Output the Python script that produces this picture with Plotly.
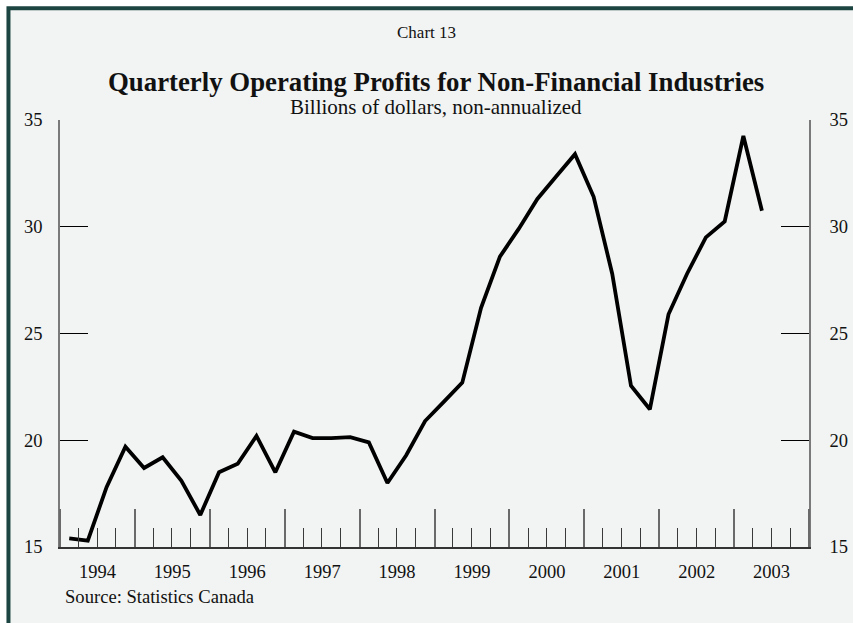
import pandas as pd
import plotly.graph_objects as go

# Quarterly operating profits, non-financial industries ($ billions, non-annualized)
quarters = [f"{y}Q{q}" for y in range(1994, 2004) for q in range(1, 5)][:38]
profits = [
    15.4, 15.3, 17.8, 19.7, 18.7, 19.2, 18.1, 16.5,   # 1994-1995
    18.5, 18.9, 20.2, 18.5, 20.4, 20.1, 20.1, 20.15,  # 1996-1997
    19.9, 18.0, 19.3, 20.9, 21.8, 22.7, 26.2, 28.6,   # 1998-1999
    29.9, 31.3, 32.35, 33.4, 31.4, 27.8, 22.55, 21.45,  # 2000-2001
    25.9, 27.8, 29.5, 30.25, 34.25, 30.75,            # 2002-2003
]
y_ticks = [15, 20, 25, 30, 35]

title_top = "Chart 13"
title_main = "Quarterly Operating Profits for Non-Financial Industries"
subtitle = "Billions of dollars, non-annualized"
source = "Source: Statistics Canada"

# plot each quarter at the middle of its period
periods = pd.PeriodIndex(quarters, freq="Q")
starts = periods.to_timestamp(how="start")
ends = (periods + 1).to_timestamp(how="start")
x_mid = starts + (ends - starts) / 2

SERIF = "Liberation Serif, Times New Roman, serif"
BG = "#f2f4f3"
BORDER = "#1c4541"
INK = "#111111"

fig = go.Figure()
fig.add_trace(go.Scatter(
    x=x_mid, y=profits, mode="lines",
    line=dict(color="#000000", width=3.8),
    hoverinfo="skip", showlegend=False,
))

axis_font = dict(family=SERIF, size=18.5, color=INK)

fig.update_layout(
    width=853, height=623,
    margin=dict(l=60, r=44, t=120, b=76, autoexpand=False),
    paper_bgcolor="#ffffff",
    plot_bgcolor="rgba(0,0,0,0)",
    font=dict(family=SERIF, color=INK),
    xaxis=dict(
        type="date", automargin=False,
        range=["1994-01-01", "2004-01-01"],
        tick0="1994-01-01", dtick="M12",
        tickformat="%Y", ticklabelmode="period",
        ticks="inside", ticklen=38, tickwidth=1.5, tickcolor="#6a6a6a",
        minor=dict(dtick="M3", ticks="inside", ticklen=19,
                   tickwidth=1.2, tickcolor="#3a3a3a", showgrid=False),
        showline=True, linecolor="#333333", linewidth=1.5,
        showgrid=False, zeroline=False,
        tickfont=axis_font, ticklabelstandoff=7,
        fixedrange=True,
    ),
    yaxis=dict(
        automargin=False,
        range=[15, 35], tickvals=y_ticks,
        ticks="inside", ticklen=28, tickwidth=1.2, tickcolor="#000000",
        showline=True, linecolor="#7a7a7a", linewidth=1.5,
        showgrid=False, zeroline=False,
        tickfont=axis_font, ticklabelstandoff=12,
        fixedrange=True,
    ),
    yaxis2=dict(
        automargin=False,
        overlaying="y", side="right", anchor="x",
        range=[15, 35], tickvals=y_ticks,
        ticks="inside", ticklen=28, tickwidth=1.2, tickcolor="#000000",
        showline=True, linecolor="#7a7a7a", linewidth=1.5,
        showgrid=False, zeroline=False,
        tickfont=axis_font, ticklabelstandoff=15,
        fixedrange=True,
    ),
    shapes=[
        # framed panel behind the chart
        dict(type="rect", xref="paper", yref="paper", layer="below",
             x0=-0.0688, x1=1.1, y0=-0.25, y1=1.262,
             line=dict(color=BORDER, width=4), fillcolor=BG),
    ],
    annotations=[
        dict(text=title_top, xref="paper", yref="paper", x=0.489, y=1.205,
             xanchor="center", yanchor="middle", showarrow=False,
             font=dict(family=SERIF, size=17, color=INK)),
        dict(text=f"<b>{title_main}</b>", xref="paper", yref="paper",
             x=0.502, y=1.09, xanchor="center", yanchor="middle",
             showarrow=False, font=dict(family=SERIF, size=26.8, color=INK)),
        dict(text=subtitle, xref="paper", yref="paper", x=0.502, y=1.03,
             xanchor="center", yanchor="middle", showarrow=False,
             font=dict(family=SERIF, size=21, color=INK)),
        dict(text=source, xref="paper", yref="paper", x=0.004, y=-0.117,
             xanchor="left", yanchor="middle", showarrow=False,
             font=dict(family=SERIF, size=18.6, color=INK)),
    ],
)
# keep the right-hand axis drawn even without its own trace
fig.add_trace(go.Scatter(x=[x_mid[0]], y=[None], yaxis="y2",
                         showlegend=False, hoverinfo="skip"))

fig.write_html("out.html", config={"displayModeBar": False})
